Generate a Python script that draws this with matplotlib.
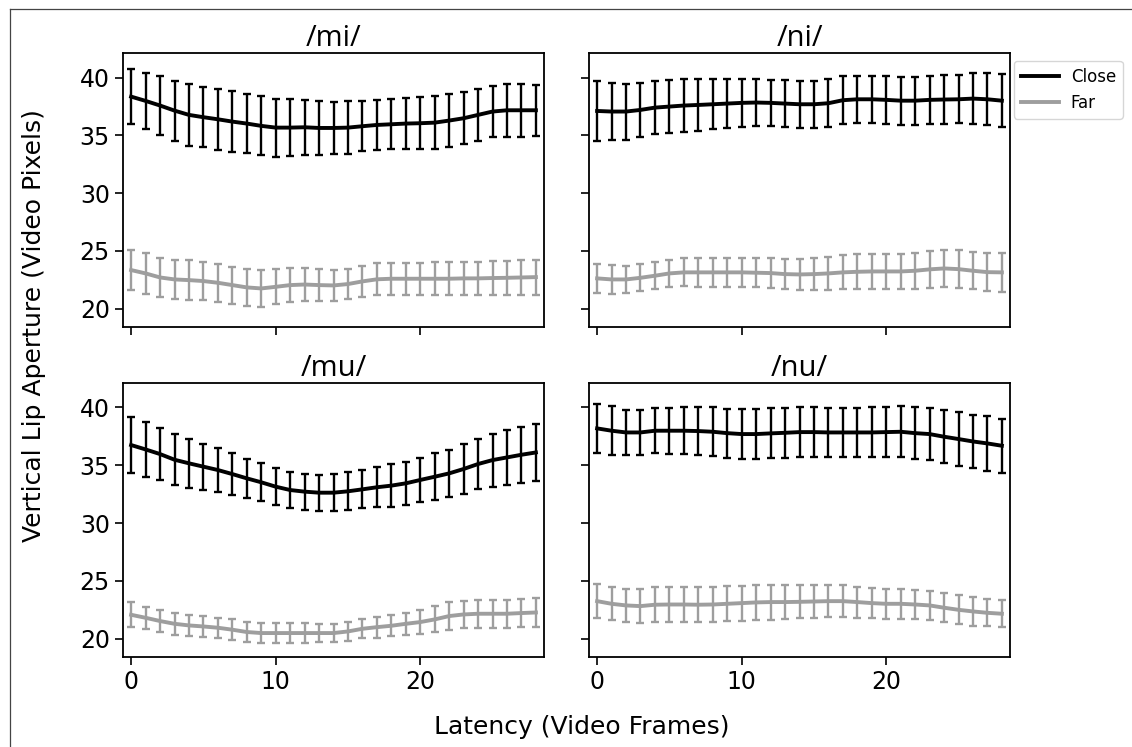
import numpy as np
import matplotlib.pyplot as plt
from matplotlib.lines import Line2D

frames = np.arange(29)

# /mi/
mi_close = [38.35, 37.98, 37.58, 37.14, 36.77, 36.57, 36.39, 36.19, 36.02, 35.82,
            35.67, 35.67, 35.70, 35.64, 35.64, 35.67, 35.79, 35.90, 35.96, 36.02,
            36.05, 36.10, 36.28, 36.48, 36.77, 37.06, 37.17, 37.17, 37.17]
mi_close_err = [2.40, 2.45, 2.55, 2.60, 2.67, 2.61, 2.64, 2.63, 2.58, 2.55,
                2.51, 2.44, 2.38, 2.34, 2.28, 2.29, 2.18, 2.16, 2.16, 2.19,
                2.25, 2.28, 2.31, 2.24, 2.24, 2.22, 2.29, 2.27, 2.19]
mi_far = [23.35, 23.06, 22.71, 22.54, 22.48, 22.40, 22.25, 22.05, 21.85, 21.76,
          21.90, 22.05, 22.10, 22.05, 22.02, 22.14, 22.37, 22.55, 22.60, 22.60,
          22.60, 22.60, 22.60, 22.63, 22.63, 22.66, 22.68, 22.71, 22.74]
mi_far_err = [1.73, 1.75, 1.69, 1.70, 1.70, 1.66, 1.62, 1.60, 1.59, 1.59,
              1.52, 1.49, 1.44, 1.40, 1.35, 1.32, 1.35, 1.38, 1.40, 1.40,
              1.40, 1.42, 1.42, 1.44, 1.45, 1.47, 1.48, 1.50, 1.52]

# /ni/
ni_close = [37.11, 37.06, 37.06, 37.20, 37.40, 37.49, 37.58, 37.63, 37.69, 37.75,
            37.81, 37.84, 37.81, 37.75, 37.69, 37.69, 37.78, 38.04, 38.12, 38.12,
            38.07, 38.00, 38.00, 38.07, 38.10, 38.12, 38.18, 38.12, 38.00]
ni_close_err = [2.60, 2.48, 2.42, 2.37, 2.32, 2.31, 2.29, 2.24, 2.18, 2.10,
                2.05, 2.02, 1.99, 2.03, 2.05, 2.05, 2.06, 2.06, 2.03, 2.02,
                2.05, 2.08, 2.08, 2.09, 2.08, 2.09, 2.21, 2.25, 2.32]
ni_far = [22.63, 22.54, 22.54, 22.68, 22.86, 23.06, 23.15, 23.15, 23.15, 23.15,
          23.15, 23.12, 23.09, 23.00, 22.97, 23.00, 23.06, 23.15, 23.20, 23.23,
          23.23, 23.23, 23.29, 23.41, 23.49, 23.43, 23.29, 23.17, 23.15]
ni_far_err = [1.27, 1.23, 1.20, 1.17, 1.18, 1.20, 1.20, 1.23, 1.23, 1.23,
              1.24, 1.24, 1.28, 1.28, 1.33, 1.39, 1.44, 1.47, 1.50, 1.53,
              1.53, 1.53, 1.54, 1.57, 1.59, 1.62, 1.62, 1.65, 1.69]

# /mu/
mu_close = [36.75, 36.37, 35.97, 35.48, 35.17, 34.88, 34.59, 34.24, 33.87, 33.53,
            33.15, 32.86, 32.72, 32.63, 32.63, 32.75, 32.92, 33.10, 33.24, 33.44,
            33.73, 34.01, 34.30, 34.68, 35.11, 35.45, 35.68, 35.91, 36.11]
mu_close_err = [2.42, 2.37, 2.26, 2.20, 2.12, 2.00, 1.90, 1.80, 1.71, 1.64,
                1.61, 1.57, 1.55, 1.55, 1.58, 1.65, 1.65, 1.73, 1.83, 1.87,
                1.91, 2.01, 2.06, 2.14, 2.20, 2.29, 2.36, 2.40, 2.47]
mu_far = [22.07, 21.81, 21.53, 21.29, 21.15, 21.06, 20.95, 20.78, 20.58, 20.49,
          20.49, 20.49, 20.49, 20.49, 20.49, 20.63, 20.86, 21.00, 21.12, 21.29,
          21.44, 21.67, 21.96, 22.10, 22.16, 22.16, 22.16, 22.22, 22.27]
mu_far_err = [1.08, 0.96, 0.96, 0.94, 0.94, 0.89, 0.88, 0.89, 0.88, 0.85,
              0.85, 0.85, 0.83, 0.79, 0.79, 0.82, 0.83, 0.90, 0.92, 0.94,
              1.04, 1.12, 1.19, 1.19, 1.22, 1.22, 1.22, 1.22, 1.24]

# /nu/
nu_close = [38.19, 37.99, 37.84, 37.84, 37.99, 37.99, 37.99, 37.96, 37.90, 37.78,
            37.70, 37.70, 37.76, 37.81, 37.87, 37.87, 37.84, 37.84, 37.84, 37.84,
            37.87, 37.90, 37.78, 37.70, 37.47, 37.27, 37.06, 36.89, 36.69]
nu_close_err = [2.12, 2.12, 1.97, 1.94, 1.97, 1.98, 2.04, 2.07, 2.10, 2.13,
                2.16, 2.14, 2.16, 2.17, 2.16, 2.13, 2.14, 2.13, 2.13, 2.16,
                2.17, 2.19, 2.23, 2.27, 2.27, 2.33, 2.33, 2.36, 2.33]
nu_far = [23.25, 23.02, 22.88, 22.82, 22.94, 22.96, 22.96, 22.94, 22.96, 23.02,
          23.08, 23.14, 23.17, 23.17, 23.19, 23.22, 23.25, 23.25, 23.17, 23.08,
          23.02, 23.02, 22.96, 22.88, 22.68, 22.50, 22.36, 22.24, 22.16]
nu_far_err = [1.44, 1.41, 1.44, 1.48, 1.51, 1.54, 1.55, 1.53, 1.51, 1.50,
              1.51, 1.51, 1.51, 1.50, 1.44, 1.41, 1.38, 1.37, 1.34, 1.32,
              1.31, 1.29, 1.25, 1.27, 1.27, 1.27, 1.25, 1.18, 1.15]

titles = ["/mi/", "/ni/", "/mu/", "/nu/"]
close_vals = [mi_close, ni_close, mu_close, nu_close]
close_errs = [mi_close_err, ni_close_err, mu_close_err, nu_close_err]
far_vals = [mi_far, ni_far, mu_far, nu_far]
far_errs = [mi_far_err, ni_far_err, mu_far_err, nu_far_err]

close_col = "black"
far_col = "#9e9e9e"

fig, axes = plt.subplots(2, 2, figsize=(11.32, 7.47), dpi=100, sharex=True, sharey=True)
fig.subplots_adjust(left=0.1087, right=0.8922, top=0.929, bottom=0.1205,
                    wspace=0.107, hspace=0.204)

for ax, t, c, ce, f, fe in zip(axes.flat, titles, close_vals, close_errs, far_vals, far_errs):
    ax.errorbar(frames, c, yerr=ce, color=close_col, lw=2.8, elinewidth=1.7,
                capsize=2.8, capthick=1.7)
    ax.errorbar(frames, f, yerr=fe, color=far_col, lw=2.8, elinewidth=1.7,
                capsize=2.8, capthick=1.7)
    ax.set_title(t, family="Open Sans", fontsize=21, pad=0)
    ax.set_xlim(-0.56, 28.56)
    ax.set_ylim(18.42, 42.12)
    ax.set_xticks([0, 10, 20])
    ax.set_yticks([20, 25, 30, 35, 40])
    ax.tick_params(labelsize=17, length=6, width=1.2)
    for s in ax.spines.values():
        s.set_linewidth(1.3)

fig.text(0.514, 0.027, "Latency (Video Frames)", ha="center", va="center", fontsize=18)
fig.text(0.030, 0.564, "Vertical Lip Aperture (Video Pixels)", ha="center", va="center",
         rotation=90, fontsize=18)

handles = [Line2D([], [], color=close_col, lw=2.8), Line2D([], [], color=far_col, lw=2.8)]
fig.legend(handles, ["Close", "Far"], loc="upper left", bbox_to_anchor=(0.8958, 0.9183),
           borderaxespad=0, fontsize=12, handlelength=2.3, handletextpad=0.7)

# thin frame around the figure (left and top edges visible)
fig.add_artist(Line2D([10 / 1132, 10 / 1132], [0, 1 - 9 / 747], color="#444444", lw=0.9,
                      transform=fig.transFigure))
fig.add_artist(Line2D([10 / 1132, 1], [1 - 9 / 747, 1 - 9 / 747], color="#444444", lw=0.9,
                      transform=fig.transFigure))

fig.savefig("out.png", dpi=100)
